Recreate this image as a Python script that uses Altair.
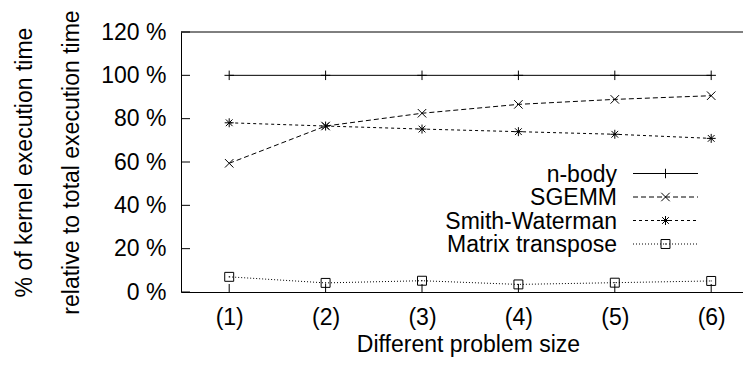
import altair as alt
import pandas as pd

# ---- data ----
sizes = [1, 2, 3, 4, 5, 6]
size_labels = ["(1)", "(2)", "(3)", "(4)", "(5)", "(6)"]
series_names = ["n-body", "SGEMM", "Smith-Waterman", "Matrix transpose"]
nbody = [100, 100, 100, 100, 100, 100]
sgemm = [59.4, 76.6, 82.5, 86.6, 88.9, 90.6]
smith_waterman = [78.1, 76.6, 75.2, 74.0, 72.8, 70.9]
matrix_transpose = [7.0, 4.2, 5.2, 3.5, 4.3, 5.1]
y_ticks = [0, 20, 40, 60, 80, 100, 120]

# ---- layout ----
W, H = 562, 260
FONT = "Liberation Sans"
FS = 23

xscale = alt.Scale(domain=[0.5, 0.5 + W / 96.4], nice=False, zero=False)
yscale = alt.Scale(domain=[0, 120], nice=False, zero=True)

x_axis = alt.Axis(
    values=sizes, labelExpr="'(' + datum.value + ')'", ticks=False, tickSize=0,
    grid=False, domain=True, domainColor="black", domainWidth=1,
    labelPadding=32, labelBaseline="alphabetic", labelFont=FONT, labelFontSize=FS,
    labelColor="black", title="Different problem size", titleFont=FONT,
    titleFontSize=FS, titleFontWeight="normal", titleColor="black",
    titleX=287, titleY=59, titleBaseline="alphabetic", titleAlign="center",
)
y_axis = alt.Axis(
    values=y_ticks, labelExpr="datum.value + ' %'", ticks=False, tickSize=0,
    grid=False, domain=True, domainColor="black", domainWidth=1,
    labelPadding=15, labelFont=FONT, labelFontSize=FS, labelColor="black",
    title=["% of kernel execution time", "relative to total execution time"],
    titleFont=FONT, titleFontSize=FS, titleFontWeight="normal", titleColor="black",
    titleAngle=270, titleX=-150, titleY=130, titleBaseline="alphabetic",
    titleAlign="center", titleLineHeight=47.5,
)


def X(field):
    return alt.X(f"{field}:Q", scale=xscale, axis=x_axis)


def Y(field):
    return alt.Y(f"{field}:Q", scale=yscale, axis=y_axis)


PLUS = "M-1,0L1,0M0,-1L0,1"
CROSS = "M-1,-1L1,1M-1,1L1,-1"
STAR = "M-1,0L1,0M0,-1L0,1M-0.75,-0.75L0.75,0.75M-0.75,0.75L0.75,-0.75"
SQUARE = "M-1,-1L1,-1L1,1L-1,1Z M-0.12,0L0.12,0"

specs = [
    (series_names[0], nbody, None, PLUS, 90),
    (series_names[1], sgemm, [5, 3], CROSS, 72),
    (series_names[2], smith_waterman, [3, 3], STAR, 81),
    (series_names[3], matrix_transpose, [1, 2], SQUARE, 80),
]

legend_y = [141.5, 165, 188.5, 212]

layers = []

# inward tick marks
layers.append(
    alt.Chart(pd.DataFrame({"t": y_ticks})).mark_rule(color="black", strokeWidth=1)
    .encode(y=Y("t"), x=alt.value(0), x2=alt.value(9))
)
layers.append(
    alt.Chart(pd.DataFrame({"s": sizes})).mark_rule(color="black", strokeWidth=1)
    .encode(x=X("s"), y=alt.value(H), y2=alt.value(H - 8))
)
# top border
layers.append(
    alt.Chart(pd.DataFrame({"a": [0]})).mark_rule(color="black", strokeWidth=1)
    .encode(x=alt.value(0), x2=alt.value(W), y=alt.value(0))
)

for (name, vals, dash, shape, sz), ly in zip(specs, legend_y):
    df = pd.DataFrame({"size": sizes, "pct": vals, "series": name})
    base = alt.Chart(df)
    line_kw = dict(color="black", strokeWidth=1)
    if dash:
        line_kw["strokeDash"] = dash
    layers.append(base.mark_line(**line_kw).encode(x=X("size"), y=Y("pct")))
    layers.append(
        base.mark_point(shape=shape, size=sz, filled=False, color="black",
                        strokeWidth=1, opacity=1)
        .encode(x=X("size"), y=Y("pct"))
    )
    # legend entry
    ldf = pd.DataFrame({"label": [name]})
    lb = alt.Chart(ldf)
    layers.append(
        lb.mark_text(font=FONT, fontSize=FS, align="right", baseline="middle",
                     color="black", dy=1)
        .encode(text="label:N", x=alt.value(436), y=alt.value(ly))
    )
    layers.append(
        lb.mark_rule(**line_kw).encode(x=alt.value(452), x2=alt.value(517), y=alt.value(ly))
    )
    layers.append(
        lb.mark_point(shape=shape, size=sz, filled=False, color="black",
                      strokeWidth=1, opacity=1)
        .encode(x=alt.value(484.5), y=alt.value(ly))
    )

chart = (
    alt.layer(*layers)
    .properties(
        width=W, height=H,
        autosize=alt.AutoSizeParams(type="none"),
        padding={"left": 173, "top": 24, "right": 0, "bottom": 67},
        background="white",
    )
    .configure_view(strokeWidth=0)
)

chart.save("out.html", embed_options={"renderer": "svg", "actions": False})
